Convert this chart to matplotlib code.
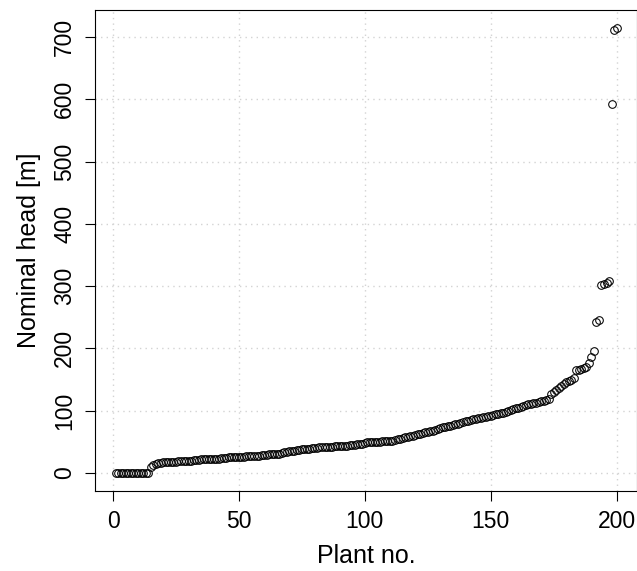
import matplotlib
matplotlib.use("Agg")
import matplotlib.pyplot as plt
import numpy as np

plant_no = list(range(1, 201))
nominal_head = [
    0, 0, 0, 0, 0, 0, 0, 0, 0, 0, 0, 0, 0, 0,
    10, 13, 15, 16, 16, 17,
    17, 17, 18, 18, 18, 19, 19, 19, 20, 20,
    20, 21, 21, 21, 22, 22, 22, 22, 23, 23,
    23, 23, 24, 24, 24, 25, 25, 25, 25, 26,
    26, 26, 27, 27, 27, 28, 28, 28, 29, 29,
    29, 30, 30, 30, 31, 31, 32, 33, 34, 35,
    36, 36, 37, 37, 38, 38, 39, 39, 40, 40,
    40, 41, 41, 41, 42, 42, 42, 43, 43, 43,
    44, 44, 44, 45, 45, 45, 46, 46, 47, 48,
    49, 50, 50, 50, 50, 50, 51, 51, 51, 52,
    52, 53, 54, 55, 56, 57, 58, 59, 60, 61,
    62, 63, 64, 65, 66, 67, 68, 69, 70, 72,
    73, 74, 75, 76, 77, 78, 79, 80, 82, 83,
    84, 85, 86, 87, 88, 89, 90, 90, 91, 92,
    93, 94, 95, 96, 97, 98, 100, 101, 102, 104,
    105, 106, 108, 109, 110, 111, 112, 113, 114, 115,
    116, 117, 118, 126, 130, 133, 136, 140, 143, 146,
    148, 150, 152, 165, 166, 167, 168, 170, 176, 186,
    196, 242, 246, 302, 303, 305, 308, 592, 711, 715,
]
x_ticks = [0, 50, 100, 150, 200]
y_ticks = [0, 100, 200, 300, 400, 500, 600, 700]

plt.rcParams['font.family'] = ['Liberation Sans', 'DejaVu Sans']

fig = plt.figure(figsize=(6.37, 5.71), dpi=100)
ax = fig.add_axes([0.1499, 0.1405, 0.8495, 0.8424])

xmin, xmax = min(plant_no), max(plant_no)
ymin, ymax = min(nominal_head), max(nominal_head)
dx = 0.04 * (xmax - xmin)
dy = 0.04 * (ymax - ymin)
ax.set_xlim(xmin - dx, xmax + dx)
ax.set_ylim(ymin - dy, ymax + dy)

for t in x_ticks:
    ax.axvline(t, color='#D3D3D3', linestyle=(0, (1, 3)), linewidth=1.0, zorder=0)
for t in y_ticks:
    ax.axhline(t, color='#D3D3D3', linestyle=(0, (1, 3)), linewidth=1.0, zorder=0)

ax.plot(plant_no, nominal_head, linestyle='none', marker='o', markersize=5.5,
        markerfacecolor='none', markeredgecolor='black', markeredgewidth=0.75, zorder=2)

ax.set_xticks(x_ticks)
ax.set_yticks(y_ticks)
ax.set_yticklabels([str(t) for t in y_ticks], rotation=90, va='center')
ax.tick_params(axis='both', labelsize=16.5, length=7, width=0.8, pad=7, colors='black')
for s in ax.spines.values():
    s.set_linewidth(0.8)
    s.set_color('black')

ax.set_xlabel('Plant no.', fontsize=18, labelpad=8)
ax.set_ylabel('Nominal head [m]', fontsize=18, labelpad=9)

fig.savefig('out.png', dpi=100)
